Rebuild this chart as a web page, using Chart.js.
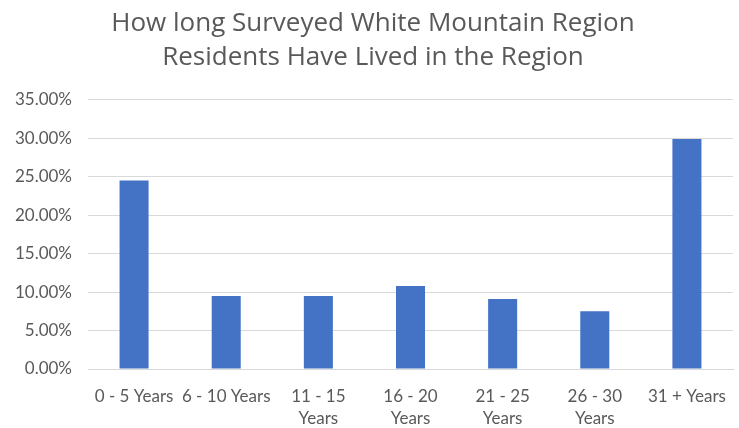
<!DOCTYPE html>
<html>
<head>
<meta charset="utf-8">
<script src="https://cdn.jsdelivr.net/npm/chart.js@4"></script>
<style>
    html, body { margin: 0; padding: 0; background: #fff; overflow: hidden; }
    canvas { display: block; }
</style>
</head>
<body>
<canvas id="grafico" width="739" height="428"></canvas>
<script>
const TITULO = ['How long Surveyed White Mountain Region', 'Residents Have Lived in the Region'];
const CATEGORIAS = [
    '0 - 5 Years',
    '6 - 10 Years',
    ['11 - 15', 'Years'],
    ['16 - 20', 'Years'],
    ['21 - 25', 'Years'],
    ['26 - 30', 'Years'],
    '31 + Years'
];
const PORCENTAJES = [24.5, 9.5, 9.5, 10.8, 9.1, 7.5, 29.9];
const Y_MAX = 35;
const Y_PASO = 5;

const GRIS_TEXTO = '#595959';
const GRIS_GRILLA = '#d9d9d9';
const AZUL = '#4472c4';

new Chart(document.getElementById('grafico'), {
    type: 'bar',
    data: {
        labels: CATEGORIAS,
        datasets: [{
            data: PORCENTAJES,
            backgroundColor: AZUL,
            borderWidth: 0,
            categoryPercentage: 1,
            barPercentage: 0.315
        }]
    },
    options: {
        responsive: false,
        animation: false,
        devicePixelRatio: 1,
        layout: { padding: { left: 13, right: 6, top: 0, bottom: 0 } },
        plugins: {
            legend: { display: false },
            tooltip: { enabled: false },
            title: {
                display: true,
                text: TITULO,
                color: GRIS_TEXTO,
                font: { family: 'Open Sans', size: 26, weight: 'normal', lineHeight: 1.32 },
                padding: { top: 6, bottom: 25 }
            }
        },
        scales: {
            x: {
                afterFit: (s) => { s.height = 59; },
                grid: { display: false },
                border: { display: true, color: GRIS_GRILLA, width: 1 },
                ticks: {
                    color: GRIS_TEXTO,
                    font: { family: 'Lato', size: 17, lineHeight: 1.3 },
                    padding: 8,
                    maxRotation: 0,
                    autoSkip: false
                }
            },
            y: {
                min: 0,
                max: Y_MAX,
                afterFit: (s) => { s.width = 75; },
                grid: { color: GRIS_GRILLA, lineWidth: 1, drawTicks: false },
                border: { display: false },
                ticks: {
                    stepSize: Y_PASO,
                    color: GRIS_TEXTO,
                    font: { family: 'Lato', size: 17, lineHeight: 1.2 },
                    padding: 16,
                    callback: (v) => v.toFixed(2) + '%'
                }
            }
        }
    }
});
</script>
</body>
</html>
